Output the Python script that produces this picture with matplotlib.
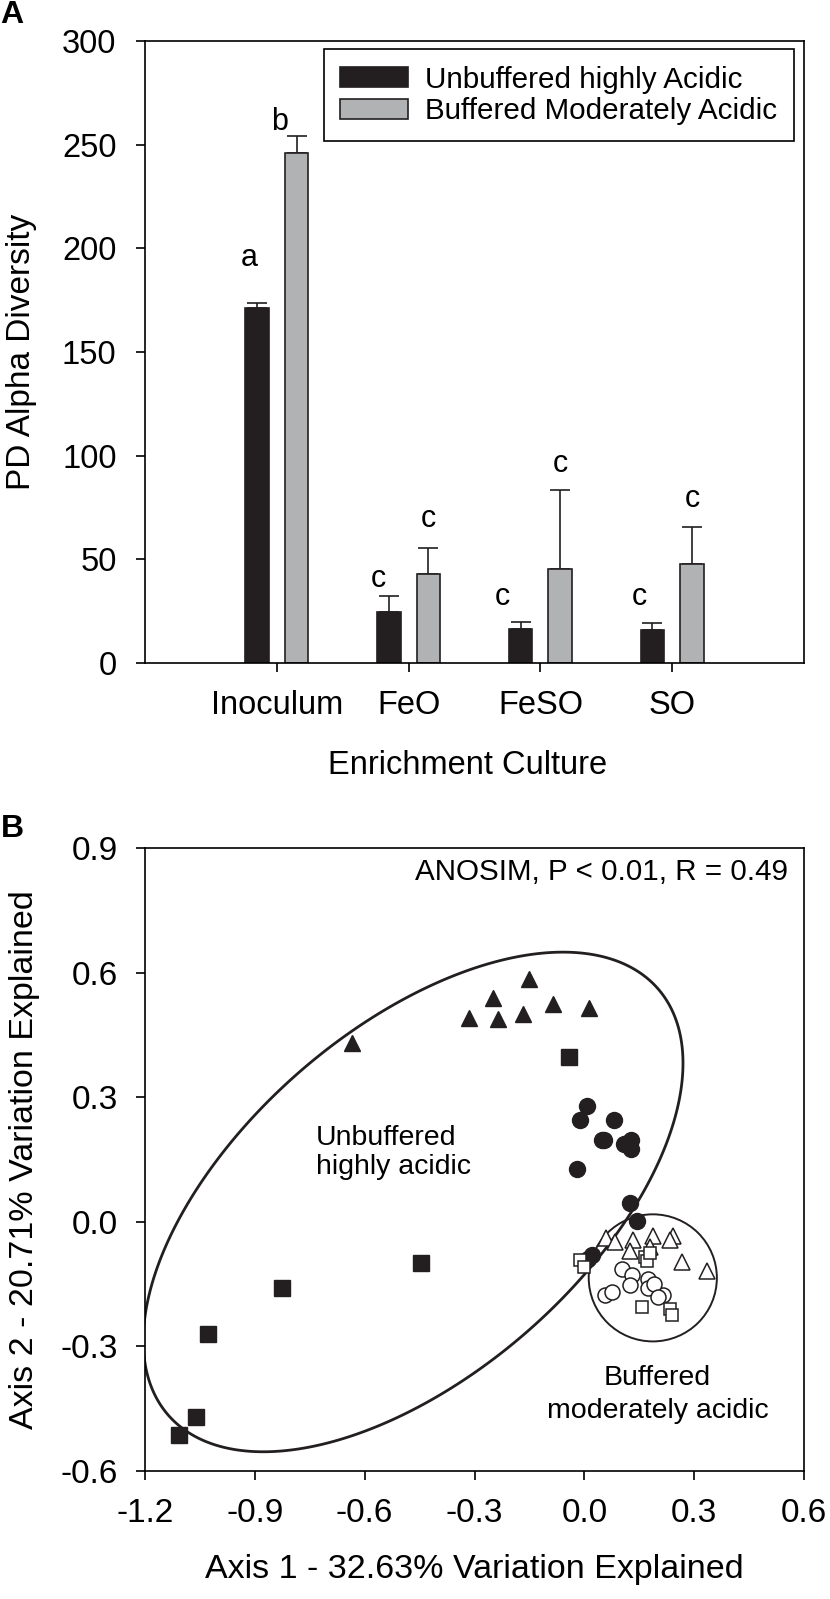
import numpy as np
import matplotlib
matplotlib.use('Agg')
import matplotlib.pyplot as plt
from matplotlib.patches import Ellipse

plt.rcParams['font.family'] = ['Liberation Sans', 'DejaVu Sans']

# ---- panel A data ----
categories = ['Inoculum', 'FeO', 'FeSO', 'SO']
unbuf_mean = [171, 24.6, 16.3, 15.9]
unbuf_err = [2.5, 7.6, 3.5, 3.4]
buf_mean = [246, 43, 45.4, 47.8]
buf_err = [8, 12.6, 38.2, 17.9]
unbuf_letters = ['a', 'c', 'c', 'c']
buf_letters = ['b', 'c', 'c', 'c']
# letter placement (gap above error cap, sideways nudge)
unbuf_gap = [18, 4.3, 8.1, 8.5]
buf_gap = [3.1, 10, 8.7, 9.5]
unbuf_dx = [-0.06, -0.076, -0.136, -0.098]
buf_dx = [-0.13, 0, 0, 0]

# ---- panel B data (PCoA scores) ----
tri_filled_x = [-0.634, -0.315, -0.249, -0.236, -0.167, -0.151, -0.085, 0.013]
tri_filled_y = [0.43, 0.49, 0.539, 0.488, 0.50, 0.584, 0.524, 0.514]
circ_filled_x = [0.007, -0.012, 0.080, 0.054, 0.048, 0.107, 0.128, 0.127, -0.020, 0.125, 0.145, 0.010, 0.020]
circ_filled_y = [0.280, 0.245, 0.246, 0.198, 0.196, 0.188, 0.196, 0.176, 0.126, 0.045, 0.002, -0.09, -0.08]
sq_filled_x = [-0.042, -0.446, -0.827, -1.029, -1.062, -1.107]
sq_filled_y = [0.396, -0.099, -0.159, -0.27, -0.469, -0.513]
tri_open_x = [0.06, 0.084, 0.133, 0.187, 0.243, 0.234, 0.125, 0.18, 0.266, 0.335]
tri_open_y = [-0.04, -0.049, -0.045, -0.033, -0.033, -0.045, -0.07, -0.06, -0.097, -0.119]
circ_open_x = [0.102, 0.13, 0.125, 0.175, 0.175, 0.216, 0.057, 0.075, 0.19, 0.2]
circ_open_y = [-0.113, -0.129, -0.153, -0.137, -0.16, -0.177, -0.177, -0.169, -0.15, -0.18]
sq_open_x = [0.166, 0.17, -0.011, 0.0, 0.157, 0.234, 0.24, 0.18]
sq_open_y = [-0.085, -0.095, -0.093, -0.11, -0.205, -0.21, -0.225, -0.075]

# outline of the "unbuffered" group ellipse
big_outline_x = [-0.776, -0.634, -0.413, -0.031, 0.207, 0.266, 0.262, 0.212, 0.125, 0.0,
                 -0.295, -0.584, -0.888, -1.108, -1.186, -1.198, -1.186, -1.123, -0.968]
big_outline_y = [0.337, 0.43, 0.59, 0.638, 0.558, 0.437, 0.317, 0.172, 0.012, -0.141,
                 -0.342, -0.486, -0.571, -0.512, -0.365, -0.29, -0.205, -0.06, 0.245]
small_center = (0.187, -0.135)
small_size = (0.35, 0.306)

xtick_vals = [-1.2, -0.9, -0.6, -0.3, 0.0, 0.3, 0.6]
ytick_vals = [-0.6, -0.3, 0.0, 0.3, 0.6, 0.9]

black = '#231f20'
gray = '#b1b2b4'
W, H = 830, 1599

fig = plt.figure(figsize=(8.3, 15.99), dpi=100)

# ---------- panel A ----------
ax1 = fig.add_axes([145 / W, 1 - 663 / H, 659 / W, 622 / H])
x = np.arange(len(categories))
off = 0.15
bw = 0.18
ax1.bar(x - off, unbuf_mean, bw, color=black, edgecolor=black, linewidth=1.2,
        label='Unbuffered highly Acidic', zorder=2)
ax1.bar(x + off, buf_mean, bw, color=gray, edgecolor=black, linewidth=1.2,
        label='Buffered Moderately Acidic', zorder=2)
ax1.errorbar(x - off, unbuf_mean, yerr=[np.zeros(4), unbuf_err], fmt='none',
             ecolor=black, elinewidth=1.2, capsize=7, capthick=1.2, zorder=1)
ax1.errorbar(x + off, buf_mean, yerr=[np.zeros(4), buf_err], fmt='none',
             ecolor=black, elinewidth=1.2, capsize=7, capthick=1.2, zorder=1)
for i in range(len(categories)):
    ax1.text(x[i] - off + unbuf_dx[i], unbuf_mean[i] + unbuf_err[i] + unbuf_gap[i],
             unbuf_letters[i], ha='center', va='baseline', fontsize=22)
    ax1.text(x[i] + off + buf_dx[i], buf_mean[i] + buf_err[i] + buf_gap[i],
             buf_letters[i], ha='center', va='baseline', fontsize=22)

ax1.set_xlim(-1, 4)
ax1.set_ylim(0, 300)
ax1.set_xticks(x)
ax1.set_xticklabels(categories)
ax1.set_yticks(np.arange(0, 301, 50))
ax1.tick_params(direction='out', length=6.5, width=1.2, labelsize=23.5)
ax1.tick_params(axis='x', pad=13)
ax1.tick_params(axis='y', pad=14)
ax1.set_ylabel('PD Alpha Diversity', fontsize=24)
ax1.yaxis.set_label_coords(-0.164, 0.5)
ax1.set_xlabel('Enrichment Culture', fontsize=23.5, labelpad=21)
ax1.xaxis.label.set_x(0.49)
for s in ax1.spines.values():
    s.set_linewidth(1.2)
leg = ax1.legend(loc='upper left', bbox_to_anchor=(0.271, 0.9867), fontsize=21.3,
                 frameon=True, fancybox=False, edgecolor='black', framealpha=1,
                 handlelength=2.3, handleheight=0.68, borderpad=0.55, labelspacing=0.12,
                 handletextpad=0.59, borderaxespad=0)
leg.get_frame().set_linewidth(1.2)
fig.text(0.5 / W, 1.0, 'A', fontsize=23, fontweight='bold', va='top')

# ---------- panel B ----------
ax2 = fig.add_axes([145 / W, 1 - 1471 / H, 659 / W, 623 / H])
ax2.plot(tri_filled_x, tri_filled_y, '^', color=black, ms=12, zorder=3)
ax2.plot(circ_filled_x, circ_filled_y, 'o', color=black, ms=11.5, zorder=3)
ax2.plot(sq_filled_x, sq_filled_y, 's', color=black, ms=11, zorder=3)
ax2.plot(tri_open_x, tri_open_y, '^', mfc='white', mec=black, mew=1.1, ms=12, zorder=4)
ax2.plot(circ_open_x, circ_open_y, 'o', mfc='white', mec=black, mew=1.1, ms=10.8, zorder=4)
ax2.plot(sq_open_x, sq_open_y, 's', mfc='white', mec=black, mew=1.1, ms=8.4, zorder=4)

# conic fitted through the traced outline
ox = np.array(big_outline_x) + 0.465
oy = np.array(big_outline_y) - 0.04
A = np.column_stack([ox ** 2, ox * oy, oy ** 2, ox, oy])
coef = np.linalg.lstsq(A, np.ones(len(ox)), rcond=None)[0]
gx, gy = np.meshgrid(np.linspace(-1.35, 0.75, 800), np.linspace(-0.75, 1.0, 800))
gxs, gys = gx + 0.465, gy - 0.04
F = coef[0] * gxs ** 2 + coef[1] * gxs * gys + coef[2] * gys ** 2 + coef[3] * gxs + coef[4] * gys
ax2.contour(gx, gy, F, levels=[1], colors=[black], linewidths=2.0, zorder=2)
ax2.add_patch(Ellipse(small_center, small_size[0], small_size[1], fill=False,
                      edgecolor=black, lw=1.4, zorder=2))

ax2.text(-0.733, 0.184, 'Unbuffered', ha='left', va='baseline', fontsize=20.5)
ax2.text(-0.733, 0.116, 'highly acidic', ha='left', va='baseline', fontsize=20.5)
ax2.text(0.2, -0.394, 'Buffered', ha='center', va='baseline', fontsize=20.5)
ax2.text(0.2, -0.473, 'moderately acidic', ha='center', va='baseline', fontsize=20.5)
ax2.text(0.556, 0.842, 'ANOSIM, P < 0.01, R = 0.49', ha='right', va='center', fontsize=21.3)

ax2.set_xlim(-1.2, 0.6)
ax2.set_ylim(-0.6, 0.9)
ax2.set_xticks(xtick_vals)
ax2.set_xticklabels(['%.1f' % v for v in xtick_vals])
ax2.set_yticks(ytick_vals)
ax2.set_yticklabels(['%.1f' % v for v in ytick_vals])
ax2.tick_params(direction='out', length=6.5, width=1.2, labelsize=24, pad=13)
ax2.set_xlabel('Axis 1 - 32.63% Variation Explained', fontsize=24.5, labelpad=18)
ax2.set_ylabel('Axis 2 - 20.71% Variation Explained', fontsize=24.5)
ax2.yaxis.set_label_coords(-0.160, 0.5)
for s in ax2.spines.values():
    s.set_linewidth(1.2)
fig.text(0.5 / W, 1 - 814 / H, 'B', fontsize=23, fontweight='bold', va='top')

fig.savefig('out.png', dpi=100)
